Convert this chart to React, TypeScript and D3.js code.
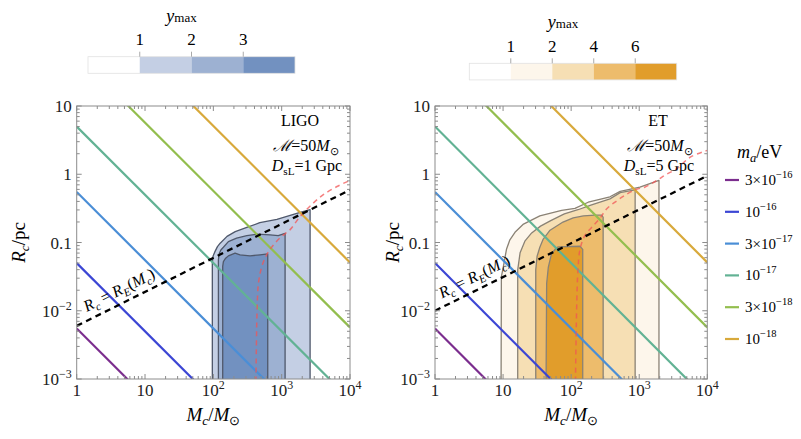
import React from 'react';
import * as d3 from 'd3';

const WIDTH = 801;
const HEIGHT = 439;
const FONT = '"Liberation Serif", "Times New Roman", serif';

// axion mass lines, value of Rc (pc) at Mc = 1 Msun, Rc falls as 1/Mc
const axionMantissa = ['3×', '', '3×', '', '3×', ''];
const axionExponent = ['−16', '−16', '−17', '−17', '−18', '−18'];
const axionRcAtUnitMc = [0.0055, 0.05, 0.55, 5, 57, 510];
const axionColors = ['#7b2d8e', '#3c46d4', '#4a8ed6', '#62b294', '#93be4e', '#d8a93b'];

// Rc = R_E(Mc) dashed line, end points [Mc, Rc]
const ligoEinstein: [number, number][] = [[1, 0.006], [1e4, 0.59]];
const etEinstein: [number, number][] = [[1, 0.01], [1e4, 0.95]];

// ymax contours, points as [log10 Mc, log10 Rc], outermost first
const ligoLevels = [1, 2, 3];
const ligoContours: [number, number][][] = [
  [[1.985, -3.3], [1.985, -1.3], [1.995, -1.2], [2.025, -1.13], [2.06, -1.06], [2.1, -1.01], [2.2, -0.91],
   [2.32, -0.84], [2.49, -0.78], [2.68, -0.71], [2.93, -0.66], [3.27, -0.56], [3.416, -0.52], [3.416, -3.3]],
  [[2.074, -3.3], [2.074, -1.25], [2.088, -1.157], [2.11, -1.11], [2.147, -1.07], [2.22, -0.987], [2.34, -0.937],
   [2.49, -0.9], [2.635, -0.878], [2.83, -0.888], [2.95, -0.9], [3.05, -0.865], [3.05, -3.3]],
  [[2.137, -3.3], [2.137, -1.35], [2.147, -1.28], [2.18, -1.23], [2.22, -1.196], [2.318, -1.157], [2.39, -1.18],
   [2.537, -1.196], [2.684, -1.18], [2.796, -1.167], [2.796, -3.3]],
];
const ligoRed: [number, number][] = [
  [2.62, -3.3], [2.63, -2.5], [2.64, -2.0], [2.66, -1.6], [2.71, -1.35], [2.78, -1.18], [2.88, -1.035], [3.0, -0.91],
  [3.12, -0.815], [3.27, -0.62], [3.46, -0.425], [3.61, -0.3], [3.81, -0.18], [4.0, -0.09],
];

const etLevels = [1, 2, 4, 6];
const etContours: [number, number][][] = [
  [[0.97, -3.3], [0.975, -1.5], [1.003, -1.36], [1.05, -1.1], [1.1, -0.96], [1.175, -0.85], [1.3, -0.73],
   [1.54, -0.61], [1.86, -0.53], [2.056, -0.5], [2.25, -0.41], [2.45, -0.36], [2.57, -0.33], [2.72, -0.25],
   [3.01, -0.19], [3.29, -0.09], [3.29, -3.3]],
  [[1.215, -3.3], [1.215, -1.4], [1.25, -1.15], [1.32, -0.98], [1.42, -0.86], [1.55, -0.76], [1.7, -0.68],
   [1.9, -0.58], [2.1, -0.52], [2.3, -0.45], [2.57, -0.36], [2.72, -0.27], [2.94, -0.23], [2.94, -3.3]],
  [[1.48, -3.3], [1.48, -1.4], [1.5, -1.2], [1.54, -1.07], [1.59, -0.95], [1.69, -0.82], [1.88, -0.7],
   [2.03, -0.64], [2.18, -0.61], [2.35, -0.6], [2.45, -0.6], [2.47, -0.63], [2.47, -3.3]],
  [[1.63, -3.3], [1.64, -1.6], [1.665, -1.36], [1.71, -1.17], [1.78, -1.08], [1.81, -1.065], [2.13, -1.055],
   [2.17, -1.1], [2.17, -3.3]],
];
const etRed: [number, number][] = [
  [2.06, -3.3], [2.08, -2.0], [2.1, -1.4], [2.13, -1.1], [2.2, -0.9], [2.3, -0.78], [2.42, -0.65], [2.52, -0.51],
  [2.67, -0.39], [2.82, -0.29], [2.96, -0.22], [3.08, -0.19], [3.26, -0.09], [3.4, 0.0], [3.55, 0.08],
  [3.75, 0.25], [4.0, 0.35],
];

const ligoFills = ['#c4cfe4', '#9db1d2', '#7291c0'];
const etFills = ['#fdf6eb', '#f6dfb4', '#edbc6c', '#e19d2b'];

const xMajor = [1, 10, 100, 1000, 10000];
const xTickBase = ['1', '10', '10', '10', '10'];
const xTickExp = ['', '', '2', '3', '4'];
const yMajor = [0.001, 0.01, 0.1, 1, 10];
const yTickBase = ['10', '10', '0.1', '1', '10'];
const yTickExp = ['−3', '−2', '', '', ''];

const minorOf = (majors: number[]) =>
  majors.slice(0, -1).flatMap(d => d3.range(2, 10).map(j => j * d));

const Sub = ({ children, italic = false }: any) => (
  <tspan dy={4} fontSize="0.7em" fontStyle={italic ? 'italic' : 'normal'}>{children}</tspan>
);

function Panel(props: any) {
  const { id, left, right, top, bottom, contours, fills, outline, red, einstein, labelMc, info, infoX, yTitleX } = props;
  const x = d3.scaleLog().domain([1, 1e4]).range([left, right]);
  const y = d3.scaleLog().domain([1e-3, 10]).range([bottom, top]);
  const pt = (p: [number, number]): [number, number] => [x(Math.pow(10, p[0])), y(Math.pow(10, p[1]))];
  const smooth = d3.line().curve(d3.curveCatmullRom.alpha(0.5));
  const straight = d3.line();

  const e0 = [x(einstein[0][0]), y(einstein[0][1])];
  const e1 = [x(einstein[1][0]), y(einstein[1][1])];
  const angle = (Math.atan2(e1[1] - e0[1], e1[0] - e0[0]) * 180) / Math.PI;
  const t = Math.log10(labelMc) / 4;
  const lx = e0[0] + (e1[0] - e0[0]) * t;
  const ly = e0[1] + (e1[1] - e0[1]) * t;

  const xMinor = minorOf(xMajor);
  const yMinor = minorOf(yMajor);
  const tk = '#8c8c8c';

  return (
    <g>
      <defs>
        <clipPath id={id}>
          <rect x={left} y={top} width={right - left} height={bottom - top} />
        </clipPath>
      </defs>
      <rect x={left} y={top} width={right - left} height={bottom - top} fill="#fff" />
      <g clipPath={`url(#${id})`}>
        {contours.map((c: [number, number][], i: number) => (
          <path key={i} d={straight(c.map(pt)) + 'Z'} fill={fills[i]} stroke={outline} strokeWidth={1.3}
            strokeLinejoin="round" />
        ))}
        {axionRcAtUnitMc.map((k, i) => (
          <path key={'a' + i} d={straight([[x(1), y(k)], [x(1e4), y(k / 1e4)]]) as string}
            stroke={axionColors[i]} strokeWidth={2.2} fill="none" />
        ))}
        <path d={smooth(red.map(pt)) as string} fill="none" stroke="#f25656" strokeOpacity={0.75}
          strokeWidth={1.5} strokeDasharray="5 4" />
        <path d={straight([e0, e1] as any) as string} fill="none" stroke="#000" strokeWidth={2.3}
          strokeDasharray="6 4.5" />
      </g>
      <text transform={`translate(${lx},${ly}) rotate(${angle})`} y={-8} textAnchor="middle"
        fontFamily={FONT} fontSize={16}>
        <tspan fontStyle="italic">R</tspan><Sub italic>c</Sub><tspan dy={-4}> = </tspan>
        <tspan fontStyle="italic">R</tspan><Sub italic>E</Sub><tspan dy={-4}>(</tspan>
        <tspan fontStyle="italic">M</tspan><Sub italic>c</Sub><tspan dy={-4}>)</tspan>
      </text>

      <rect x={left} y={top} width={right - left} height={bottom - top} fill="none" stroke={tk} strokeWidth={1} />
      {xMajor.map(v => (
        <g key={'xM' + v} stroke={tk}>
          <line x1={x(v)} x2={x(v)} y1={bottom} y2={bottom - 5} />
          <line x1={x(v)} x2={x(v)} y1={top} y2={top + 5} />
        </g>
      ))}
      {xMinor.map(v => (
        <g key={'xm' + v} stroke={tk}>
          <line x1={x(v)} x2={x(v)} y1={bottom} y2={bottom - 3} />
          <line x1={x(v)} x2={x(v)} y1={top} y2={top + 3} />
        </g>
      ))}
      {yMajor.map(v => (
        <g key={'yM' + v} stroke={tk}>
          <line x1={left} x2={left + 5} y1={y(v)} y2={y(v)} />
          <line x1={right} x2={right - 5} y1={y(v)} y2={y(v)} />
        </g>
      ))}
      {yMinor.map(v => (
        <g key={'ym' + v} stroke={tk}>
          <line x1={left} x2={left + 3} y1={y(v)} y2={y(v)} />
          <line x1={right} x2={right - 3} y1={y(v)} y2={y(v)} />
        </g>
      ))}

      <g fontFamily={FONT} fontSize={17} fill="#222">
        {xMajor.map((v, i) => (
          <text key={'xl' + v} x={x(v)} y={bottom + 17} textAnchor="middle">
            {xTickBase[i]}
            {xTickExp[i] && <tspan dy={-7} fontSize={12}>{xTickExp[i]}</tspan>}
          </text>
        ))}
        {yMajor.map((v, i) => (
          <text key={'yl' + v} x={left - 5} y={y(v) + 6} textAnchor="end">
            {yTickBase[i]}
            {yTickExp[i] && <tspan dy={-7} fontSize={12}>{yTickExp[i]}</tspan>}
          </text>
        ))}
      </g>

      <text x={(left + right) / 2} y={421} textAnchor="middle" fontFamily={FONT} fontSize={19}>
        <tspan fontStyle="italic">M</tspan><Sub italic>c</Sub><tspan dy={-4}>/</tspan>
        <tspan fontStyle="italic">M</tspan><Sub>⊙</Sub>
      </text>
      <text transform={`translate(${yTitleX},${(top + bottom) / 2}) rotate(-90)`} textAnchor="middle"
        fontFamily={FONT} fontSize={19}>
        <tspan fontStyle="italic">R</tspan><Sub italic>c</Sub><tspan dy={-4}>/pc</tspan>
      </text>

      <g fontFamily={FONT} fontSize={16} textAnchor="middle">
        <text x={infoX[0]} y={126}>{info[0]}</text>
        <text x={infoX[1]} y={151}>
          <tspan fontStyle="italic">ℳ</tspan>=50<tspan fontStyle="italic">M</tspan><Sub>⊙</Sub>
        </text>
        <text x={infoX[2]} y={171}>
          <tspan fontStyle="italic">D</tspan><Sub>sL</Sub><tspan dy={-4}>{'=' + info[1] + ' Gpc'}</tspan>
        </text>
      </g>
    </g>
  );
}

function ColorBar({ x0, x1, barTop, levels, fills }: any) {
  const cells = [0, ...levels];
  const colors = ['#ffffff', ...fills];
  const sx = d3.scaleLinear().domain([0, cells.length]).range([x0, x1]);
  const barH = 16.6;
  return (
    <g fontFamily={FONT}>
      {colors.map((c, i) => (
        <rect key={i} x={sx(i)} y={barTop} width={sx(i + 1) - sx(i)} height={barH} fill={c} />
      ))}
      <rect x={x0} y={barTop} width={x1 - x0} height={barH} fill="none" stroke="#e2e2e2" strokeWidth={0.8} />
      {levels.map((lv: number, i: number) => (
        <g key={lv}>
          <line x1={sx(i + 1)} x2={sx(i + 1)} y1={barTop - 5} y2={barTop} stroke="#aaa" />
          <text x={sx(i + 1)} y={barTop - 11.5} textAnchor="middle" fontSize={17}>{lv}</text>
        </g>
      ))}
      <text x={(x0 + x1) / 2 - 10} y={barTop - 35} textAnchor="middle" fontSize={18}>
        <tspan fontStyle="italic">y</tspan><tspan fontSize={13}>max</tspan>
      </text>
    </g>
  );
}

function AxionLegend() {
  const sy = d3.scaleLinear().domain([0, axionColors.length - 1]).range([180, 339]);
  return (
    <g fontFamily={FONT}>
      <text x={737} y={158} fontSize={18}>
        <tspan fontStyle="italic">m</tspan><Sub italic>a</Sub><tspan dy={-4}>/eV</tspan>
      </text>
      {axionColors.map((c, i) => (
        <g key={i}>
          <line x1={725} x2={739} y1={sy(i)} y2={sy(i)} stroke={c} strokeWidth={2.2} />
          <text x={745} y={sy(i) + 5} fontSize={15}>
            {axionMantissa[i]}10<tspan dy={-7} fontSize={10.5}>{axionExponent[i]}</tspan>
          </text>
        </g>
      ))}
    </g>
  );
}

export default function App() {
  return (
    <div style={{ position: 'absolute', left: 0, top: 0 }}>
      <svg width={WIDTH} height={HEIGHT} viewBox={`0 0 ${WIDTH} ${HEIGHT}`} style={{ display: 'block', background: '#fff' }}>
        <ColorBar x0={88} x1={295} barTop={56.7} levels={ligoLevels} fills={ligoFills} />
        <ColorBar x0={469.3} x1={676.7} barTop={63.3} levels={etLevels} fills={etFills} />
        <Panel id="clipL" left={76.7} right={350} top={106} bottom={379} contours={ligoContours}
          fills={ligoFills} outline="#4f586b" red={ligoRed} einstein={ligoEinstein} labelMc={5.1}
          info={['LIGO', '1']} infoX={[300, 306, 307]} yTitleX={25} />
        <Panel id="clipR" left={435} right={707.3} top={106} bottom={379} contours={etContours}
          fills={etFills} outline="#8a8275" red={etRed} einstein={etEinstein} labelMc={4.6}
          info={['ET', '5']} infoX={[658, 660, 659]} yTitleX={399} />
        <AxionLegend />
      </svg>
    </div>
  );
}
